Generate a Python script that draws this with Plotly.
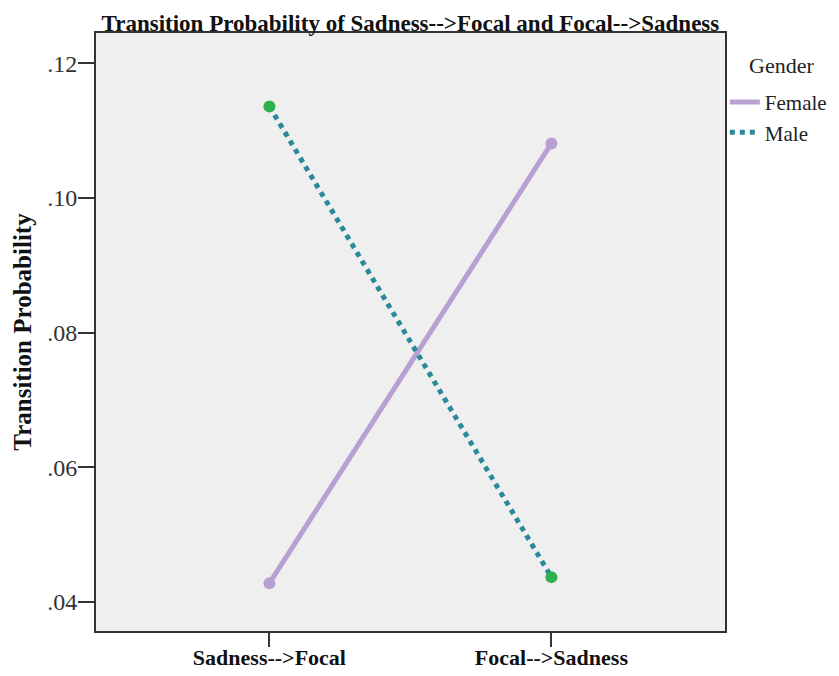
import plotly.graph_objects as go

# data
transitions = ['Sadness-->Focal', 'Focal-->Sadness']
female = [0.0428, 0.1081]
male = [0.1136, 0.0437]
tick_vals = [0.04, 0.06, 0.08, 0.10, 0.12]
tick_text = ['.04', '.06', '.08', '.10', '.12']

serif = 'Liberation Serif'
lilac = '#b9a0d2'
teal = '#2b8a99'
green = '#2fb04f'

fig = go.Figure()

fig.add_trace(go.Scatter(
    x=transitions, y=female, mode='lines+markers', showlegend=False,
    line={'color': lilac, 'width': 5},
    marker={'color': lilac, 'size': 12},
))
fig.add_trace(go.Scatter(
    x=transitions, y=male, mode='lines+markers', showlegend=False,
    line={'color': teal, 'width': 5, 'dash': 'dot'},
    marker={'color': green, 'size': 12},
))

# legend entries: lines only, like the original
fig.add_trace(go.Scatter(x=[None], y=[None], mode='lines', name='Female',
                         line={'color': lilac, 'width': 5}))
fig.add_trace(go.Scatter(x=[None], y=[None], mode='lines', name='Male',
                         line={'color': teal, 'width': 5, 'dash': 'dot'}))

# page body has an 8px margin all round, so the figure is 16px smaller
fig.update_layout(
    width=823,
    height=660,
    margin=dict(l=88, r=104, t=25, b=37),
    paper_bgcolor='white',
    plot_bgcolor='#efefef',
    font=dict(family=serif, color='#222222'),
    title=dict(
        text='<b>Transition Probability of Sadness-->Focal and Focal-->Sadness</b>',
        x=0.5, xref='paper', xanchor='center',
        y=1, yref='paper', yanchor='bottom',
        pad=dict(b=2),
        font=dict(family=serif, size=23, color='#111111'),
    ),
    legend=dict(
        xref='container', yref='container',
        x=0.871, xanchor='left',
        y=0.888, yanchor='top',
        bgcolor='rgba(0,0,0,0)',
        font=dict(family=serif, size=21, color='#222222'),
        itemwidth=30,
        tracegroupgap=0,
    ),
    annotations=[dict(
        text='Gender', x=1.036, y=0.945, xref='paper', yref='paper',
        xanchor='left', yanchor='middle', showarrow=False,
        font=dict(family=serif, size=22, color='#222222'),
    )],
)

fig.update_xaxes(
    range=[-0.615, 1.615],
    automargin=False,
    showgrid=False,
    zeroline=False,
    showline=True, mirror=True, linecolor='#333333', linewidth=2,
    ticks='outside', ticklen=14, tickwidth=2, tickcolor='#333333',
    ticklabelstandoff=-8,
    tickfont=dict(family='Liberation Sans Narrow', size=22, color='#111111'),
    tickvals=transitions,
    ticktext=['<b>' + t + '</b>' for t in transitions],
)

fig.update_yaxes(
    range=[0.0357, 0.1245],
    automargin=False,
    showgrid=False,
    zeroline=False,
    showline=True, mirror=True, linecolor='#333333', linewidth=2,
    ticks='outside', ticklen=16, tickwidth=2, tickcolor='#333333',
    ticklabelstandoff=-4,
    tickvals=tick_vals,
    ticktext=tick_text,
    tickfont=dict(family=serif, size=24, color='#333333'),
    title=dict(text='<b>Transition Probability</b>', standoff=8,
               font=dict(family=serif, size=25, color='#111111')),
)

fig.write_html('out.html')
